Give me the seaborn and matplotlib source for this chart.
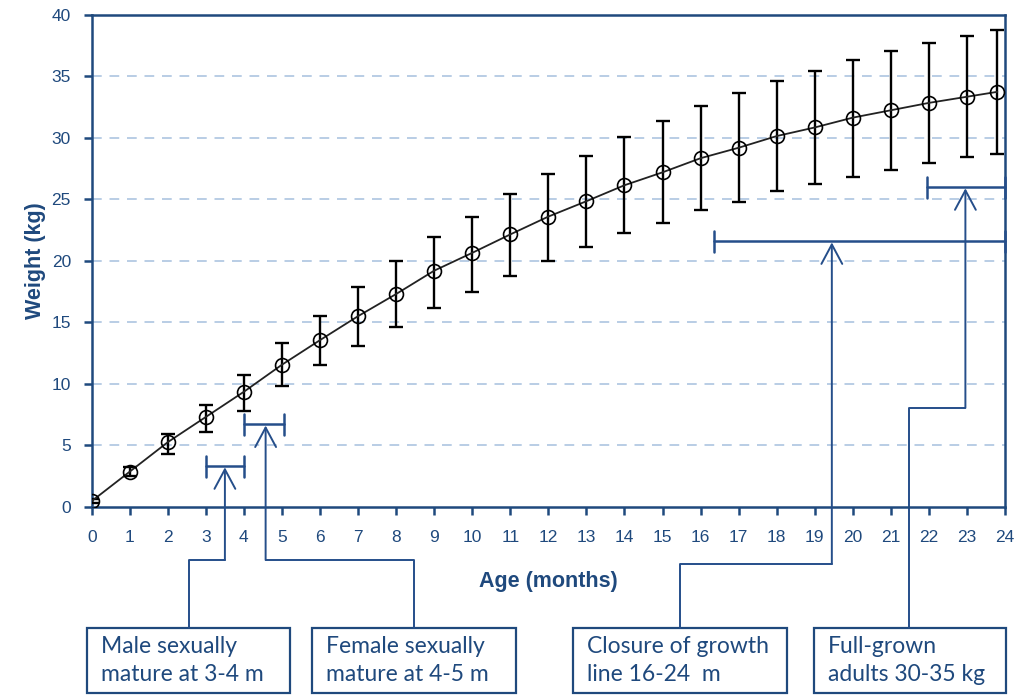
import pandas as pd
import matplotlib.pyplot as plt
import matplotlib.patches as mpatches
import seaborn as sns
import numpy as np

# Growth data
age = [0, 1, 2, 3, 4, 5, 6, 7, 8, 9, 10, 11, 12, 13, 14, 15, 16, 17, 18, 19, 20, 21, 22, 23, 23.8]
weight = [0.45, 2.85, 5.25, 7.3, 9.35, 11.55, 13.55, 15.5, 17.3, 19.2, 20.65, 22.15, 23.6, 24.85,
          26.15, 27.2, 28.35, 29.2, 30.15, 30.85, 31.65, 32.25, 32.85, 33.35, 33.75]
upper = [0.6, 3.2, 5.9, 8.3, 10.7, 13.3, 15.55, 17.85, 19.95, 21.9, 23.6, 25.45, 27.05, 28.5,
         30.05, 31.35, 32.6, 33.65, 34.65, 35.45, 36.35, 37.05, 37.7, 38.3, 38.8]
lower = [0.3, 2.5, 4.3, 6.05, 7.8, 9.85, 11.55, 13.1, 14.65, 16.2, 17.5, 18.8, 19.95, 21.1,
         22.25, 23.05, 24.1, 24.75, 25.65, 26.25, 26.8, 27.4, 27.95, 28.45, 28.7]

df = pd.DataFrame({'Age': age, 'Weight': weight, 'Upper': upper, 'Lower': lower})

# Milestone ranges: (start month, end month, bracket height kg, arrow x month)
ranges = [
    (3.0, 4.0, 3.3, 3.5),
    (4.0, 5.05, 6.7, 4.57),
    (16.35, 24.0, 21.6, 19.45),
    (21.95, 24.0, 26.0, 22.96),
]
notes = ['Male sexually\nmature at 3-4 m',
         'Female sexually\nmature at 4-5 m',
         'Closure of growth\nline 16-24  m',
         'Full-grown\nadults 30-35 kg']

navy = '#1F497D'
ann = '#254E8A'

sns.set_style('white')
plt.rcParams['font.family'] = ['Liberation Sans', 'DejaVu Sans']

fig = plt.figure(figsize=(10.18, 6.95), dpi=100)
ax = fig.add_axes([0.0901, 0.2710, 0.8971, 0.7074])

# Error bars and growth curve
ax.errorbar(df['Age'], df['Weight'],
            yerr=[df['Weight'] - df['Lower'], df['Upper'] - df['Weight']],
            fmt='none', ecolor='black', elinewidth=1.7, capsize=5, capthick=1.7, zorder=3)
sns.lineplot(data=df, x='Age', y='Weight', ax=ax, color='#222222', linewidth=1.3,
             marker='o', markersize=10, markerfacecolor='none',
             markeredgecolor='black', markeredgewidth=1.2, zorder=4)

ax.set_xlim(0, 24)
ax.set_ylim(0, 40)
ax.set_xticks(range(0, 25))
ax.set_yticks(range(0, 45, 5))
for y in range(5, 40, 5):
    ax.axhline(y, color='#B9CDE5', linestyle=(0, (5, 4)), linewidth=1.4, zorder=1)

for s in ax.spines.values():
    s.set_color(navy)
    s.set_linewidth(1.8)
ax.tick_params(axis='both', colors=navy, labelsize=12.5, length=6, width=1.8, direction='out')
ax.tick_params(axis='x', pad=11)
ax.tick_params(axis='y', pad=9)
ax.tick_params(left=True, bottom=True)

ax.set_xlabel('Age (months)', fontsize=15.5, fontweight='bold', color=navy)
ax.set_ylabel('Weight (kg)', fontsize=15.5, fontweight='bold', color=navy)
ax.xaxis.set_label_coords(0.5, -0.13)
ax.yaxis.set_label_coords(-0.05, 0.5)

# Brackets with arrows
for x0, x1, yb, xa in ranges:
    ax.plot([x0, x1], [yb, yb], color=ann, lw=1.8, clip_on=False, zorder=5)
    ax.plot([x0, x0], [yb - 0.85, yb + 0.85], color=ann, lw=1.8, clip_on=False, zorder=5)
    ax.plot([x1, x1], [yb - 0.85, yb + 0.85], color=ann, lw=1.8, clip_on=False, zorder=5)

# Connectors: arrow tip -> bend -> box
bends = [(-4.34, 2.56), (-4.34, 8.46), (-4.66, 15.45), (8.03, 21.49)]
box_top, box_bot = -9.87, -15.16
for (x0, x1, yb, xa), (ybend, xdrop) in zip(ranges, bends):
    ax.annotate('', xy=(xa, yb - 0.1), xytext=(xa, ybend), annotation_clip=False,
                arrowprops=dict(arrowstyle='->,head_length=1.4,head_width=0.75',
                                color=ann, lw=1.4, shrinkA=0, shrinkB=0))
    ax.plot([xa, xdrop, xdrop], [ybend, ybend, box_top], color=ann, lw=1.4, clip_on=False)

# Note boxes
boxes = [(-0.116, 5.20), (5.79, 11.14), (12.65, 18.26), (18.99, 24.03)]
for (bx0, bx1), txt in zip(boxes, notes):
    rect = mpatches.Rectangle((bx0, box_bot), bx1 - bx0, box_top - box_bot, fill=False,
                              edgecolor=navy, lw=1.6, clip_on=False)
    ax.add_patch(rect)
    ax.text(bx0 + 0.36, (box_top + box_bot) / 2, txt, fontsize=16.5, color=navy,
            family=['Lato', 'DejaVu Sans'], va='center', ha='left', linespacing=1.45,
            clip_on=False)

fig.savefig('out.png', dpi=100)
